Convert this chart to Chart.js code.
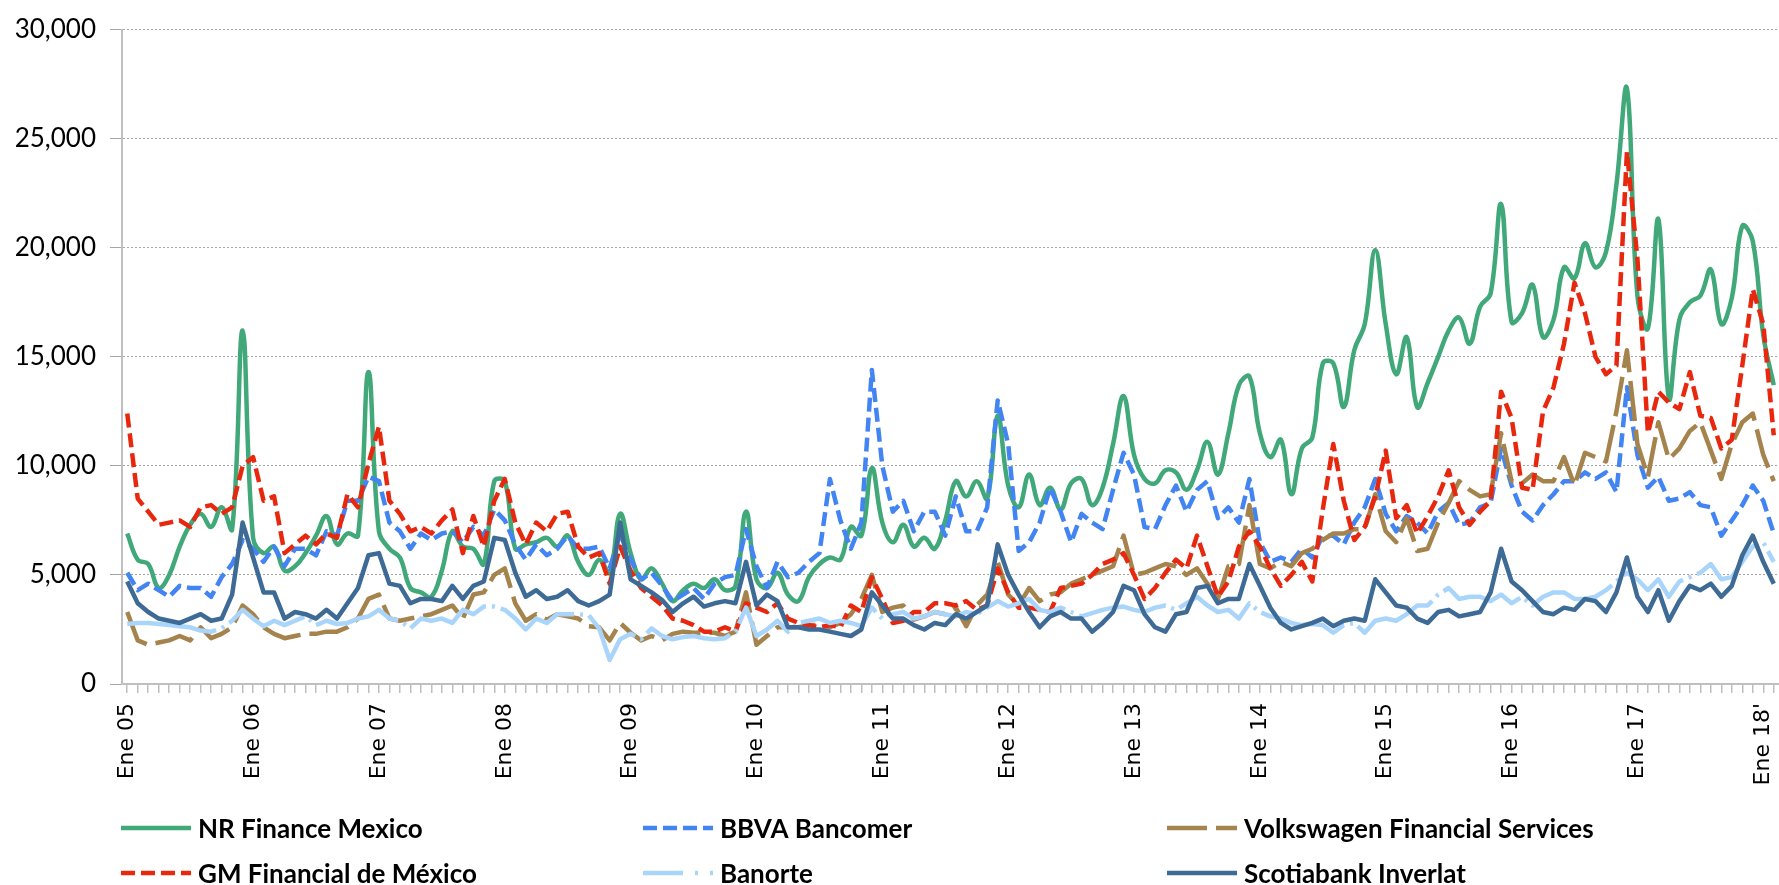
<!DOCTYPE html>
<html>
<head>
<meta charset="utf-8">
<script src="https://cdn.jsdelivr.net/npm/chart.js@4.4.0/dist/chart.umd.min.js"></script>
<style>
  body { margin: 0; background: #fff; }
  #wrap { width: 1779px; height: 885px; position: relative; }
</style>
</head>
<body>
<div id="wrap"><canvas id="myChart" width="1779" height="885"></canvas></div>
<script>
// Meses (categorías) de Ene 05 a Feb 18
var meses = ['Ene', 'Feb', 'Mar', 'Abr', 'May', 'Jun', 'Jul', 'Ago', 'Sep', 'Oct', 'Nov', 'Dic'];
var anios = ['05', '06', '07', '08', '09', '10', '11', '12', '13', '14', '15', '16', '17', '18'];
var categorias = [];
anios.forEach(function (a) {
    meses.forEach(function (m) {
        if (categorias.length < 158) categorias.push(m + ' ' + a);
    });
});

// Etiquetas que se muestran en el eje X (solo enero)
var etiquetasEne = ['Ene 05', 'Ene 06', 'Ene 07', 'Ene 08', 'Ene 09', 'Ene 10', 'Ene 11',
    'Ene 12', 'Ene 13', 'Ene 14', 'Ene 15', 'Ene 16', 'Ene 17', "Ene 18'"];

var ticksY = [0, 5000, 10000, 15000, 20000, 25000, 30000];

var nrFinance = [
    6900, 5700, 5500, 4400, 5000, 6300, 7300, 7800, 7200, 8100, 7100, 16200,
    6700, 6000, 6300, 5200, 5400, 6000, 6800, 7700, 6400, 6900, 6800, 14300,
    7000, 6200, 5800, 4400, 4200, 4000, 5200, 7000, 6300, 6200, 5500, 9300,
    9300, 6200, 6400, 6500, 6700, 6300, 6800, 5600, 5000, 5700, 5100, 7800,
    6000, 4800, 5300, 4600, 3800, 4300, 4600, 4400, 4800, 4300, 4500, 7900,
    4800, 4400, 5100, 4100, 3800, 4900, 5500, 5800, 5700, 7200, 6800, 9900,
    7400, 6500, 7300, 6300, 6700, 6200, 7500, 9300, 8600, 9300, 8500, 12300,
    9100, 8100, 9600, 8200, 9000, 8000, 9200, 9400, 8200, 9000, 11000, 13200,
    10500, 9400, 9200, 9800, 9700, 8900, 9800, 11100, 9600, 11500, 13700, 14100,
    11500, 10400, 11200, 8700, 10800, 11300, 14700, 14700, 12700, 15300, 16500, 19900,
    16500, 14200, 15900, 12700, 13800, 15000, 16200, 16800, 15600, 17300, 17900, 22000,
    16600, 17000, 18300, 15900, 16700, 19100, 18600, 20200, 19100, 19800, 22900, 27300,
    17800, 16300, 21300, 13100, 16700, 17500, 17800, 19000, 16500, 17700, 21000, 20300,
    16000, 13700
];

var bbva = [
    5100, 4300, 4600, 4300, 4000, 4500, 4400, 4400, 4000, 4900, 5500, 6600,
    6200, 5600, 6300, 5400, 6200, 6200, 5900, 7000, 6800, 8400, 8400, 9500,
    9300, 7400, 7000, 6200, 6900, 6600, 6900, 7000, 6500, 7200, 6800, 8000,
    7500, 6400, 5700, 6400, 5900, 6200, 6800, 6200, 6200, 6300, 5300, 6900,
    5700, 4800, 5100, 4500, 3800, 4100, 4400, 3900, 4600, 4900, 5000, 7100,
    5400, 4400, 5600, 4900, 5100, 5600, 6000, 9400, 7500, 6200, 7400, 14400,
    10000, 7900, 8400, 7000, 7900, 7900, 6800, 8600, 7000, 7000, 8100, 13000,
    11000, 6100, 6500, 7400, 9000, 7900, 6500, 7800, 7400, 7100, 8900, 10600,
    9600, 7200, 7100, 8200, 9100, 7900, 8900, 9300, 7600, 8100, 7400, 9400,
    6500, 5600, 5800, 5600, 6200, 5800, 6800, 6800, 6400, 7400, 8100, 9400,
    7800, 7000, 7700, 7400, 6900, 7900, 8300, 7300, 7400, 8100, 8300, 10800,
    9100, 7900, 7500, 8200, 8700, 9300, 9300, 9700, 9400, 9700, 8800, 13600,
    10500, 9000, 9500, 8400, 8500, 8800, 8200, 8100, 6800, 7500, 8200, 9100,
    8400, 6900
];

var volkswagen = [
    3300, 2000, 1800, 1900, 2000, 2200, 2000, 2600, 2100, 2300, 2600, 3600,
    3200, 2600, 2300, 2100, 2200, 2300, 2300, 2400, 2400, 2600, 3000, 3900,
    4100, 3000, 2900, 3000, 3100, 3200, 3400, 3600, 3000, 4100, 4200, 5000,
    5300, 3700, 2900, 3200, 2950, 3200, 3100, 3000, 2650, 2600, 2000, 2800,
    2350, 2000, 2200, 2000, 2300, 2400, 2350, 2350, 2350, 2200, 2400, 4200,
    1800, 2200, 2600, 2600, 2600, 2700, 2700, 2600, 2800, 3200, 3900, 5000,
    3300, 3500, 3600, 2950, 3100, 3300, 3200, 3500, 2650, 3600, 4100, 5600,
    4100, 3600, 4400, 3800, 4100, 4200, 4600, 4800, 5000, 5200, 5400, 6800,
    5000, 5100, 5300, 5500, 5400, 5000, 5300, 4600, 3900, 5400, 5500, 8200,
    5500, 5300, 5600, 5400, 6000, 6200, 6600, 6900, 6900, 7100, 7100, 8700,
    7000, 6500, 7600, 6100, 6200, 7400, 8300, 9300, 8900, 8600, 8700, 11500,
    9300, 9200, 9600, 9300, 9300, 10400, 9100, 10600, 10400, 10200, 12500, 15300,
    11000, 9500, 12000, 10300, 10800, 11600, 12000, 10700, 9400, 11000, 12000, 12400,
    10500, 9300
];

var gmFinancial = [
    12400, 8500, 7900, 7300, 7400, 7500, 7200, 8100, 8200, 7800, 8100, 10000,
    10400, 8400, 8600, 6000, 6400, 6800, 6400, 6900, 6700, 8700, 8100, 10100,
    11800, 8400, 7800, 7000, 7200, 6900, 7500, 8000, 6000, 7700, 6300, 8400,
    9400, 7400, 6400, 7400, 7000, 7800, 7900, 6300, 5800, 6000, 4600, 6300,
    5200, 4400, 4000, 3600, 3000, 2900, 2700, 2400, 2400, 2600, 2400, 3700,
    3500, 3300, 3700, 3000, 2800, 2700, 2600, 2700, 2600, 3600, 3300, 4900,
    3900, 2800, 2900, 3300, 3300, 3700, 3700, 3600, 3800, 3400, 3600, 5300,
    4200, 3500, 3500, 3400, 3300, 4400, 4500, 4600, 5000, 5500, 5700, 6000,
    5000, 3900, 4400, 5100, 5700, 5300, 6800, 5400, 4000, 4700, 6300, 7000,
    6300, 5300, 4500, 5000, 5600, 4700, 8000, 11000, 8400, 6600, 7200, 8600,
    10700, 7600, 8200, 6900, 7700, 8600, 9800, 8100, 7300, 7900, 8400, 13400,
    12200, 9000, 8900, 12500, 13600, 15600, 18400, 17000, 15000, 14200, 14600, 24400,
    19500, 11500, 13400, 12900, 12600, 14300, 12300, 12200, 10800, 11200, 14600, 18100,
    16500, 11400
];

var banorte = [
    2750, 2800, 2800, 2750, 2700, 2650, 2600, 2450, 2400, 2550, 2900, 3400,
    3000, 2650, 2900, 2700, 2900, 3100, 2700, 2900, 2750, 2800, 3000, 3100,
    3400, 3000, 2900, 2550, 3000, 2900, 3000, 2800, 3400, 3200, 3550, 3550,
    3400, 3000, 2500, 3000, 2800, 3200, 3200, 3200, 3150, 2550, 1100, 2050,
    2300, 2050, 2550, 2200, 2050, 2150, 2200, 2100, 2050, 2100, 2400, 3500,
    2200, 2500, 2900, 2400, 2800, 2900, 3000, 2800, 2900, 2800, 2650, 3500,
    3000, 3200, 3300, 3000, 3100, 3300, 3200, 3100, 3300, 3200, 3500, 3800,
    3550, 3700, 3900, 3400, 3300, 3500, 3300, 3100, 3250, 3400, 3500, 3550,
    3400, 3300, 3500, 3600, 3400, 3700, 4000, 3600, 3300, 3400, 3000, 3700,
    3300, 3100, 3000, 2800, 2700, 2750, 2700, 2350, 2700, 2800, 2350, 2900,
    3000, 2900, 3200, 3600, 3600, 4100, 4400, 3900, 4000, 4000, 3800, 4100,
    3700, 4000, 3600, 4000, 4200, 4200, 3900, 3900, 4000, 4300, 4700, 5100,
    4800, 4300, 4800, 4000, 4700, 4900, 5100, 5500, 4800, 4900, 5600, 6300,
    6500, 5600
];

var scotiabank = [
    4700, 3700, 3300, 3000, 2900, 2800, 3000, 3200, 2900, 3000, 4100, 7400,
    5800, 4200, 4200, 3000, 3300, 3200, 3000, 3400, 3000, 3700, 4400, 5900,
    6000, 4600, 4500, 3700, 3900, 3900, 3800, 4500, 3900, 4500, 4700, 6700,
    6600, 5100, 4000, 4300, 3900, 4000, 4300, 3800, 3600, 3800, 4100, 7400,
    4800, 4500, 4200, 3850, 3300, 3700, 4000, 3550, 3700, 3800, 3700, 5600,
    3600, 4100, 3800, 2600, 2600, 2500, 2500, 2400, 2300, 2200, 2500, 4200,
    3600, 3000, 3000, 2700, 2500, 2800, 2700, 3200, 3000, 3300, 3600, 6400,
    5000, 4100, 3300, 2600, 3100, 3300, 3000, 3000, 2400, 2800, 3300, 4500,
    4300, 3200, 2600, 2400, 3200, 3300, 4400, 4500, 3700, 3900, 3900, 5500,
    4500, 3500, 2800, 2500, 2650, 2800, 3000, 2650, 2900, 3000, 2900, 4800,
    4200, 3600, 3500, 3000, 2800, 3300, 3400, 3100, 3200, 3300, 4200, 6200,
    4700, 4300, 3800, 3300, 3200, 3500, 3400, 3900, 3800, 3300, 4200, 5800,
    4000, 3300, 4300, 2900, 3800, 4500, 4300, 4600, 4000, 4500, 5900, 6800,
    5600, 4600
];

// Leyenda dibujada a mano: 3 columnas x 2 filas
var leyendaX = [121, 643, 1167];
var leyendaY = [828, 873];

var leyendaPlugin = {
    id: 'leyenda',
    afterDraw: function (chart) {
        var ctx = chart.ctx;
        chart.data.datasets.forEach(function (ds, i) {
            var x = leyendaX[i % 3];
            var y = leyendaY[Math.floor(i / 3)];
            ctx.save();
            ctx.strokeStyle = ds.borderColor;
            ctx.lineWidth = ds.borderWidth;
            ctx.setLineDash(ds.legendDash || ds.borderDash || []);
            ctx.beginPath();
            ctx.moveTo(x, y);
            ctx.lineTo(x + 70, y);
            ctx.stroke();
            ctx.setLineDash([]);
            ctx.fillStyle = '#000';
            ctx.font = 'bold 26px Lato';
            ctx.textBaseline = 'middle';
            ctx.fillText(ds.label, x + 77, y + 2);
            ctx.restore();
        });
    }
};

function serie(label, data, color, dash, tension) {
    return {
        label: label,
        data: data,
        borderColor: color,
        backgroundColor: color,
        borderWidth: 4.5,
        borderDash: dash,
        borderJoinStyle: 'round',
        pointRadius: 0,
        tension: tension,
        fill: false
    };
}

var datasets = [
    serie('NR Finance Mexico', nrFinance, '#41A87A', [], 0.4),
    serie('BBVA Bancomer', bbva, '#4384F3', [14, 6], 0),
    serie('Volkswagen Financial Services', volkswagen, '#A5834D', [40, 9], 0),
    serie('GM Financial de México', gmFinancial, '#E8280E', [14, 6], 0),
    serie('Banorte', banorte, '#AAD5FB', [90, 6, 3, 6], 0),
    serie('Scotiabank Inverlat', scotiabank, '#3E6A96', [], 0)
];
datasets[4].legendDash = [40, 12, 3, 12];
// Excel dibuja la última serie encima
datasets.forEach(function (ds, i) { ds.order = datasets.length - i; });

var chartCanvas = document.getElementById('myChart');
if (chartCanvas) {
    var ctx = chartCanvas.getContext('2d');
    var myChart = new Chart(ctx, {
        type: 'line',
        data: {
            labels: categorias,
            datasets: datasets
        },
        options: {
            responsive: false,
            animation: false,
            devicePixelRatio: 1,
            layout: { padding: { top: 19, right: 0, bottom: 0, left: 0 } },
            plugins: {
                legend: { display: false },
                tooltip: { enabled: false }
            },
            scales: {
                x: {
                    offset: true,
                    grid: {
                        display: true,
                        drawOnChartArea: false,
                        drawTicks: true,
                        tickLength: 9,
                        color: '#BFBFBF',
                        lineWidth: 1.5
                    },
                    border: { display: true, color: '#BFBFBF', width: 2 },
                    ticks: {
                        autoSkip: false,
                        minRotation: 90,
                        maxRotation: 90,
                        padding: 10,
                        color: '#000',
                        font: { family: 'DejaVu Sans', size: 22 },
                        callback: function (val, idx) {
                            return idx % 12 === 0 ? etiquetasEne[idx / 12] : '';
                        }
                    },
                    afterFit: function (scale) {
                        scale.height = 201;
                        scale.paddingLeft = 0;
                        scale.paddingRight = 0;
                    }
                },
                y: {
                    min: 0,
                    max: 30000,
                    grid: {
                        color: '#A6A6A6',
                        lineWidth: 1,
                        drawTicks: true,
                        tickLength: 12,
                        tickColor: '#A6A6A6',
                        tickBorderDash: []
                    },
                    border: { display: true, color: '#BFBFBF', width: 2, dash: [2, 2] },
                    afterBuildTicks: function (scale) {
                        scale.ticks = ticksY.map(function (v) { return { value: v }; });
                    },
                    ticks: {
                        padding: 14,
                        color: '#000',
                        font: { family: 'Lato', size: 26 },
                        callback: function (v) { return v.toLocaleString('en-US'); }
                    },
                    afterFit: function (scale) {
                        scale.width = 122;
                    }
                }
            }
        },
        plugins: [leyendaPlugin]
    });
} else {
    console.error("No se encontró el elemento 'myChart'");
}
</script>
</body>
</html>
